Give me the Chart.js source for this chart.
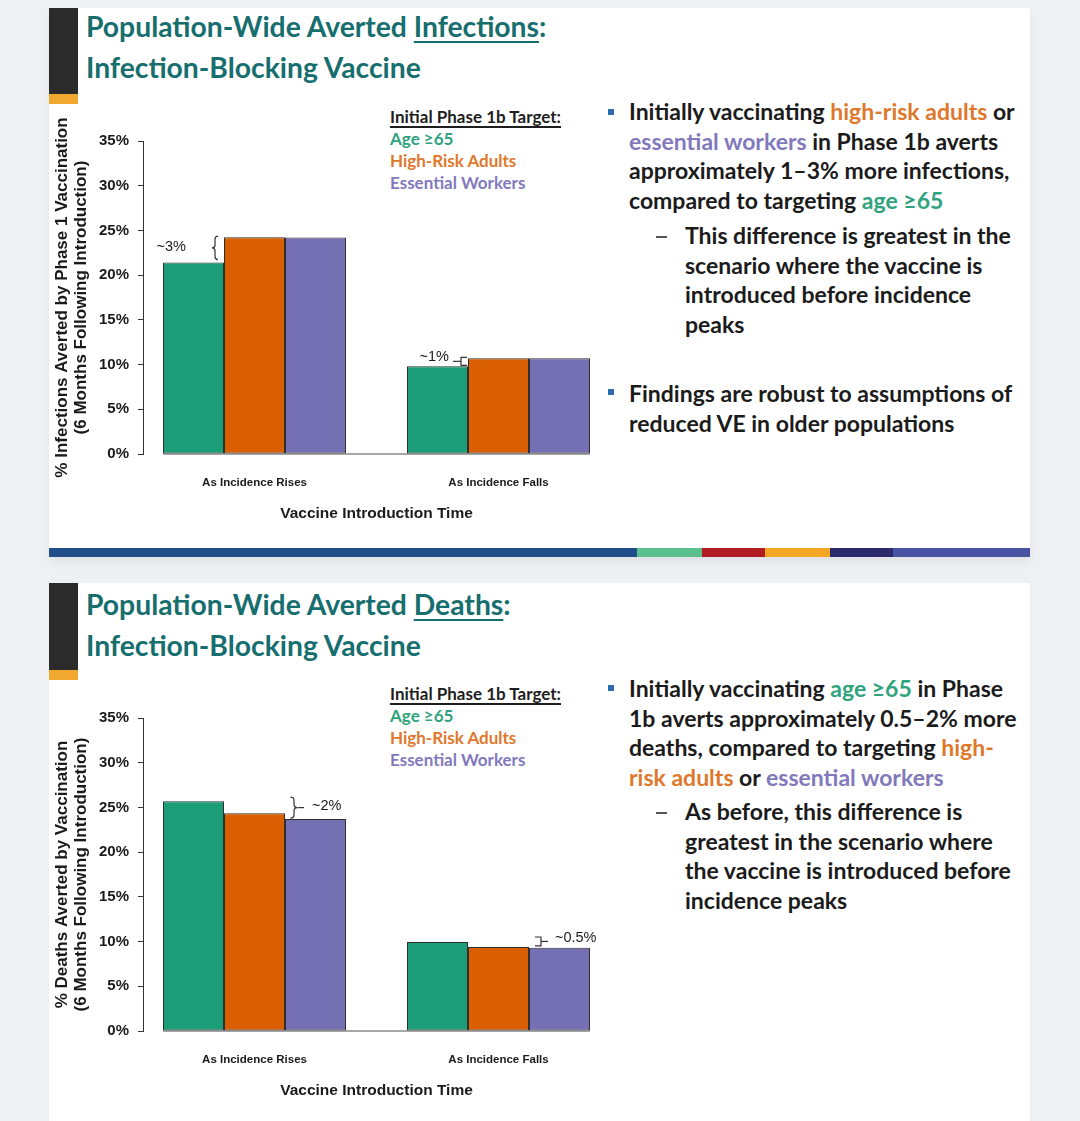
<!DOCTYPE html>
<html>
<head>
<meta charset="utf-8">
<script src="https://cdn.jsdelivr.net/npm/chart.js"></script>
<style>
  body { margin: 0; width: 1080px; height: 1121px; overflow: hidden; position: relative; background: #eef0f3; font-family: Lato, "Open Sans", sans-serif; }
  .slide { position: absolute; left: 49px; width: 981px; background: #fff; }
  .abs { position: absolute; }
  .title { position: absolute; left: 86px; font-weight: bold; font-size: 28.3px; line-height: 41px; color: #176e6e; white-space: nowrap; }
  .title u { text-decoration-thickness: 2px; text-underline-offset: 4px; }
  .legend { position: absolute; left: 390px; font-weight: bold; font-size: 17px; line-height: 22px; white-space: nowrap; color: #1e1e1e; }
  .legend u { text-decoration-thickness: 1.5px; text-underline-offset: 3px; }
  .txt { position: absolute; font-weight: bold; font-size: 23px; line-height: 29.5px; color: #1b1b1b; white-space: nowrap; }
  .sq { position: absolute; left: 608px; width: 6px; height: 6px; background: #2f6db3; }
  .dash { position: absolute; left: 656px; width: 11px; height: 1.5px; background: #555; }
  .g { color: #2fa37d; } .o { color: #e0782c; } .p { color: #8279bd; }
  canvas { position: absolute; }
</style>
</head>
<body>
<!-- slide 1 -->
<div class="slide" style="top:8px;height:549px;box-shadow:0 6px 10px rgba(0,0,0,0.06)"></div>
<div class="abs" style="left:49px;top:8px;width:29px;height:86px;background:#2b2b2b"></div>
<div class="abs" style="left:49px;top:94px;width:29px;height:10px;background:#f0a830"></div>
<div class="abs" style="left:49px;top:548px;width:588px;height:9px;background:#1f4e8a"></div>
<div class="abs" style="left:637px;top:548px;width:65px;height:9px;background:#5cbf8e"></div>
<div class="abs" style="left:702px;top:548px;width:63px;height:9px;background:#b01c22"></div>
<div class="abs" style="left:765px;top:548px;width:65px;height:9px;background:#f5a623"></div>
<div class="abs" style="left:830px;top:548px;width:63px;height:9px;background:#2d2a6b"></div>
<div class="abs" style="left:893px;top:548px;width:137px;height:9px;background:#4953a3"></div>

<div class="title" style="top:6px">Population-Wide Averted <u>Infections</u>:<br>Infection-Blocking Vaccine</div>
<div class="legend" style="top:106px"><u>Initial Phase 1b Target:</u><br><span class="g">Age ≥65</span><br><span class="o">High-Risk Adults</span><br><span class="p">Essential Workers</span></div>

<div class="sq" style="top:109px"></div>
<div class="txt" style="left:629px;top:97px">Initially vaccinating <span class="o">high-risk adults</span> or<br><span class="p">essential workers</span> in Phase 1b averts<br>approximately 1–3% more infections,<br>compared to targeting <span class="g">age ≥65</span></div>
<div class="dash" style="top:236px"></div>
<div class="txt" style="left:685px;top:221px">This difference is greatest in the<br>scenario where the vaccine is<br>introduced before incidence<br>peaks</div>
<div class="sq" style="top:389px"></div>
<div class="txt" style="left:629px;top:379px">Findings are robust to assumptions of<br>reduced VE in older populations</div>

<canvas id="infChart" style="left:40px;top:100px" width="570" height="430"></canvas>

<!-- slide 2 -->
<div class="slide" style="top:583px;height:538px"></div>
<div class="abs" style="left:49px;top:583px;width:29px;height:87px;background:#2b2b2b"></div>
<div class="abs" style="left:49px;top:670px;width:29px;height:10px;background:#f0a830"></div>

<div class="title" style="top:584px">Population-Wide Averted <u>Deaths</u>:<br>Infection-Blocking Vaccine</div>
<div class="legend" style="top:683px"><u>Initial Phase 1b Target:</u><br><span class="g">Age ≥65</span><br><span class="o">High-Risk Adults</span><br><span class="p">Essential Workers</span></div>

<div class="sq" style="top:685px"></div>
<div class="txt" style="left:629px;top:674px">Initially vaccinating <span class="g">age ≥65</span> in Phase<br>1b averts approximately 0.5–2% more<br>deaths, compared to targeting <span class="o">high-</span><br><span class="o">risk adults</span> or <span class="p">essential workers</span></div>
<div class="dash" style="top:812px"></div>
<div class="txt" style="left:685px;top:797px">As before, this difference is<br>greatest in the scenario where<br>the vaccine is introduced before<br>incidence peaks</div>

<canvas id="deathChart" style="left:40px;top:677px" width="570" height="430"></canvas>

<script>
const categories = ['As Incidence Rises', 'As Incidence Falls'];
const seriesNames = ['Age ≥65', 'High-Risk Adults', 'Essential Workers'];
const seriesColors = ['#1b9e77', '#d95f02', '#7570b3'];

// % infections averted
const infAge65 = [21.4, 9.8];
const infHighRisk = [24.25, 10.7];
const infWorkers = [24.2, 10.7];

// % deaths averted
const deathAge65 = [25.7, 9.95];
const deathHighRisk = [24.35, 9.4];
const deathWorkers = [23.7, 9.3];

const yTickValues = [0, 5, 10, 15, 20, 25, 30, 35];
const infNotes = ['~3%', '~1%'];
const deathNotes = ['~2%', '~0.5%'];

Chart.defaults.font.family = '"Liberation Sans", Arial, sans-serif';
Chart.defaults.color = '#1a1a1a';

// grey baseline under the bar groups
const baselinePlugin = {
  id: 'baseline',
  beforeDatasetsDraw(chart) {
    const first = chart.getDatasetMeta(0).data[0];
    const last = chart.getDatasetMeta(2).data[1];
    const y0 = chart.scales.y.getPixelForValue(0);
    const ctx = chart.ctx;
    ctx.save();
    ctx.strokeStyle = '#8a8a8a';
    ctx.lineWidth = 1.5;
    ctx.beginPath();
    ctx.moveTo(first.x - first.width / 2, y0);
    ctx.lineTo(last.x + last.width / 2, y0);
    ctx.stroke();
    ctx.restore();
  }
};

const curly = (ctx, x, y1, y2, dir, d) => {
  const m = (y1 + y2) / 2;
  const back = x - dir * d / 2;
  ctx.beginPath();
  ctx.moveTo(back, y1);
  ctx.quadraticCurveTo(x, y1, x, y1 + 3);
  ctx.lineTo(x, m - 3);
  ctx.quadraticCurveTo(x, m, x + dir * d / 2, m);
  ctx.quadraticCurveTo(x, m, x, m + 3);
  ctx.lineTo(x, y2 - 3);
  ctx.quadraticCurveTo(x, y2, back, y2);
  ctx.stroke();
};

const bracket = (ctx, x, y1, y2, dir, w) => {
  ctx.beginPath();
  ctx.moveTo(x - dir * w, y1);
  ctx.lineTo(x, y1);
  ctx.lineTo(x, y2);
  ctx.lineTo(x - dir * w, y2);
  ctx.stroke();
};

// difference markers next to the bars
const notesPlugin = {
  id: 'notes',
  afterDatasetsDraw(chart, args, opts) {
    const ctx = chart.ctx;
    const bar = (s, g) => chart.getDatasetMeta(s).data[g];
    ctx.save();
    ctx.strokeStyle = '#333';
    ctx.fillStyle = '#1a1a1a';
    ctx.lineWidth = 1.2;
    ctx.font = '14.5px "Liberation Sans", Arial, sans-serif';
    ctx.textBaseline = 'middle';
    opts.items.forEach((it) => {
      const a = bar(it.upper, it.group);
      const b = bar(it.lower, it.group);
      const ref = bar(it.anchor, it.group);
      const left = ref.x - ref.width / 2;
      const y1 = a.y - it.padTop;
      const y2 = b.y - it.padBottom;
      const m = (y1 + y2) / 2;
      if (it.kind === 'curlyLeft') {
        const x = left - 9;
        curly(ctx, x, y1, y2, -1, 6);
        ctx.textAlign = 'right';
        ctx.fillText(it.label, x - 29, m - 1);
      } else if (it.kind === 'bracketLeft') {
        const x = left - 7;
        bracket(ctx, x, y1, y2, -1, 6);
        ctx.beginPath(); ctx.moveTo(x - 8, m); ctx.lineTo(x, m); ctx.stroke();
        ctx.textAlign = 'right';
        ctx.fillText(it.label, x - 12, m - 4);
      } else if (it.kind === 'curlyRight') {
        const x = left + 9;
        curly(ctx, x, y1, y2, 1, 7);
        ctx.beginPath(); ctx.moveTo(x + 4, m); ctx.lineTo(x + 10, m); ctx.stroke();
        ctx.textAlign = 'left';
        ctx.fillText(it.label, x + 18, m - 2);
      } else {
        const x = left + 12;
        bracket(ctx, x, y1, y2, 1, 6);
        ctx.beginPath(); ctx.moveTo(x, m); ctx.lineTo(x + 7, m); ctx.stroke();
        ctx.textAlign = 'left';
        ctx.fillText(it.label, x + 14, m - 3);
      }
    });
    ctx.restore();
  }
};

const makeChart = (id, values, yTitle, notes) => {
  const ctx = document.getElementById(id).getContext('2d');
  new Chart(ctx, {
    type: 'bar',
    data: {
      datasets: values.map((vals, i) => ({
        label: seriesNames[i],
        data: vals.map((v, g) => ({ x: g, y: v })),
        backgroundColor: seriesColors[i],
        borderColor: '#2e2e2e',
        borderWidth: 1,
        borderSkipped: false,
        categoryPercentage: 0.75,
        barPercentage: 1.0,
      })),
    },
    options: {
      responsive: false,
      animation: false,
      layout: { padding: { top: 41, right: 0, left: 0, bottom: 0 } },
      plugins: {
        legend: { display: false },
        tooltip: { enabled: false },
        notes: { items: notes },
      },
      scales: {
        x: {
          type: 'linear',
          offset: false,
          bounds: 'data',
          min: -0.457,
          max: 1.457,
          grid: { display: false, drawTicks: false },
          border: { display: false },
          afterBuildTicks: (scale) => { scale.ticks = categories.map((c, i) => ({ value: i })); },
          ticks: {
            autoSkip: false,
            maxRotation: 0,
            padding: 22,
            color: '#1a1a1a',
            font: { size: 11.5, weight: 'bold' },
            callback: (v) => categories[v],
          },
          title: {
            display: true,
            text: 'Vaccine Introduction Time',
            color: '#1a1a1a',
            font: { size: 15.5, weight: 'bold' },
            padding: { top: 0, bottom: 7 },
          },
          afterFit: (scale) => { scale.height = 76; },
        },
        y: {
          min: 0,
          max: 35,
          afterBuildTicks: (scale) => { scale.ticks = yTickValues.map((v) => ({ value: v })); },
          grid: { drawOnChartArea: false, drawTicks: true, tickLength: 5, color: '#333' },
          border: { display: true, color: '#333', width: 1 },
          ticks: {
            padding: 9,
            color: '#1a1a1a',
            font: { size: 15, weight: 'bold' },
            callback: (v) => v + '%',
          },
          title: {
            display: true,
            text: yTitle,
            color: '#1a1a1a',
            font: { size: 17, weight: 'bold', lineHeight: 1.12 },
            padding: { top: 13, bottom: 0 },
          },
          afterFit: (scale) => { scale.width = 103; },
        },
      },
    },
    plugins: [baselinePlugin, notesPlugin],
  });
};

makeChart('infChart', [infAge65, infHighRisk, infWorkers],
  ['% Infections Averted by Phase 1 Vaccination', '(6 Months Following Introduction)'],
  [
    { label: infNotes[0], group: 0, upper: 1, lower: 0, anchor: 1, padTop: 1, padBottom: 3, kind: 'curlyLeft' },
    { label: infNotes[1], group: 1, upper: 1, lower: 0, anchor: 1, padTop: 1, padBottom: 1, kind: 'bracketLeft' },
  ]);

makeChart('deathChart', [deathAge65, deathHighRisk, deathWorkers],
  ['% Deaths Averted by Vaccination', '(6 Months Following Introduction)'],
  [
    { label: deathNotes[0], group: 0, upper: 0, lower: 2, anchor: 2, padTop: 4, padBottom: 1, kind: 'curlyRight' },
    { label: deathNotes[1], group: 1, upper: 0, lower: 2, anchor: 2, padTop: 5, padBottom: 2, kind: 'bracketRight' },
  ]);
</script>
</body>
</html>
